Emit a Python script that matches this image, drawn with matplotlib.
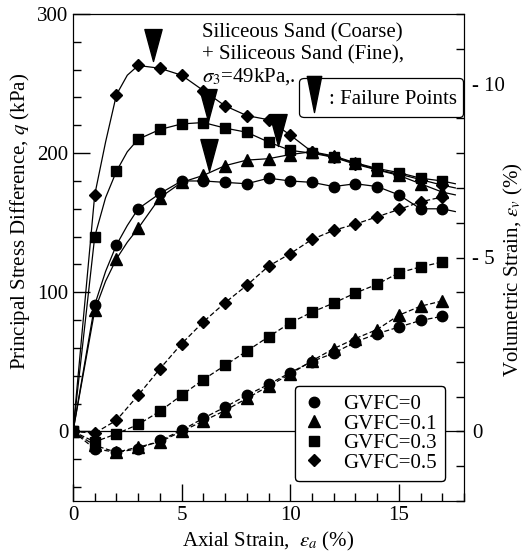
import matplotlib

matplotlib.use("Agg")
import matplotlib.pyplot as plt
import numpy as np
from matplotlib.lines import Line2D
from matplotlib.path import Path
from matplotlib.ticker import MultipleLocator

plt.rcParams.update(
    {
        "font.family": ["Liberation Serif", "DejaVu Serif"],
        "mathtext.fontset": "stix",
        "font.size": 15,
        "xtick.direction": "in",
        "ytick.direction": "in",
    }
)

# axial strain (%) along the deviator-stress curves
strain_line = [0, 1, 1.5, 2, 2.5, 3, 4, 5, 6, 7, 8, 9, 10, 11, 12, 13, 14, 15, 16, 17, 17.6]
# principal stress difference q (kPa)
q_gvfc0 = [0, 91, 115, 134, 148, 160, 171, 180, 180, 179, 178, 182, 180, 179, 176, 178, 176, 170, 160, 160, 158]
q_gvfc01 = [0, 87, 108, 124, 136, 146, 168, 179, 184, 191, 195, 196, 199, 201, 198, 193, 188, 184, 178, 172, 170]
q_gvfc03 = [0, 140, 168, 187, 201, 210, 217, 221, 222, 218, 215, 208, 202, 200, 197, 193, 189, 186, 182, 180, 178]
q_gvfc05 = [0, 170, 208, 242, 256, 263, 261, 256, 245, 234, 227, 224, 213, 201, 197, 192, 188, 185, 181, 177, 175]

# volumetric strain (%) at the marker strains 0..17
strain_pts = list(range(18))
ev_gvfc0 = [0, 0.5, 0.6, 0.5, 0.26, -0.03, -0.38, -0.7, -1.04, -1.35, -1.69, -2.01, -2.25, -2.57, -2.81, -3.0, -3.19, -3.31]
ev_gvfc01 = [0, 0.4, 0.6, 0.45, 0.3, 0.0, -0.3, -0.6, -0.95, -1.3, -1.65, -2.03, -2.38, -2.67, -2.93, -3.34, -3.6, -3.75]
ev_gvfc03 = [0, 0.3, 0.07, -0.2, -0.58, -1.04, -1.49, -1.9, -2.31, -2.72, -3.12, -3.43, -3.69, -3.98, -4.23, -4.56, -4.73, -4.87]
ev_gvfc05 = [0, 0.05, -0.32, -1.04, -1.8, -2.52, -3.15, -3.7, -4.2, -4.75, -5.11, -5.52, -5.78, -5.96, -6.17, -6.38, -6.6, -6.74]

# failure points (axial strain, q)
fail_strain = [3.7, 6.2, 6.25, 9.45]
fail_q = [266, 223, 187, 205]

labels = ["GVFC=0", "GVFC=0.1", "GVFC=0.3", "GVFC=0.5"]
markers = [("o", 7.5), ("^", 8), ("s", 7), ("D", 6.5)]

fig = plt.figure(figsize=(5.26, 5.58), dpi=100)
ax = fig.add_axes([73 / 526, 1 - 501 / 558, 391 / 526, 487 / 558])
ax2 = ax.twinx()

x_line = np.array(strain_line)
is_pt = np.isin(x_line, strain_pts)
for q, (m, ms) in zip([q_gvfc0, q_gvfc01, q_gvfc03, q_gvfc05], markers):
    q = np.array(q)
    ax.plot(x_line, q, color="k", lw=0.9)
    ax.plot(x_line[is_pt], q[is_pt], ls="none", marker=m, ms=ms, color="k")

for ev, (m, ms) in zip([ev_gvfc0, ev_gvfc01, ev_gvfc03, ev_gvfc05], markers):
    ax2.plot(strain_pts, ev, color="k", lw=0.9, ls=(0, (4, 2)),
             marker=m, ms=ms, mfc="k", mec="k")

# tall narrow triangle, tip at the data point
tip_marker = Path([(-0.27, 1), (0.27, 1), (0, 0), (-0.27, 1)],
                  [Path.MOVETO, Path.LINETO, Path.LINETO, Path.CLOSEPOLY])
ax.plot(fail_strain, fail_q, ls="none", marker=tip_marker, ms=46, color="k", zorder=5)

ax.axhline(0, color="k", lw=0.9)

ax.set_xlim(0, 18)
ax.set_ylim(-50, 300)
ax.xaxis.set_major_locator(MultipleLocator(5))
ax.xaxis.set_minor_locator(MultipleLocator(1))
ax.set_yticks([0, 100, 200, 300])
ax.yaxis.set_minor_locator(MultipleLocator(20))
ax.tick_params(which="major", length=12, width=1, top=False, right=False)
ax.tick_params(which="minor", length=6, width=1, top=False, right=False)

ax2.set_ylim(2, -12)
ax2.set_yticks([0, -5, -10])
ax2.set_yticklabels(["0", "- 5", "- 10"])
ax2.yaxis.set_minor_locator(MultipleLocator(1))
ax2.tick_params(which="major", length=6, width=1, pad=6)
ax2.tick_params(which="minor", length=6, width=1)

ax.set_xlabel(r"Axial Strain,  $\varepsilon_a$ (%)", labelpad=4)
ax.set_ylabel(r"Principal Stress Difference, $q$ (kPa)")
ax.yaxis.set_label_coords(-0.105, 0.575)
ax2.set_ylabel(r"Volumetric Strain, $\varepsilon_v$ (%)")
ax2.yaxis.set_label_coords(1.097, 0.476)

ax.text(0.331, 0.962, "Siliceous Sand (Coarse)", transform=ax.transAxes, va="center")
ax.text(0.331, 0.917, "+ Siliceous Sand (Fine),", transform=ax.transAxes, va="center")
ax.text(0.331, 0.871, r"$\sigma_3$=49kPa,.", transform=ax.transAxes, va="center")

handles = [Line2D([], [], ls="none", marker=m, ms=ms, color="k") for m, ms in markers]
leg = ax.legend(handles, labels, loc="lower right", bbox_to_anchor=(0.951, 0.041),
                borderaxespad=0, fancybox=True, edgecolor="k", framealpha=1,
                handlelength=1.0, handletextpad=0.9, labelspacing=0.0,
                borderpad=0.4)
leg.get_frame().set_linewidth(0.9)
ax.add_artist(leg)

fail_handle = Line2D([], [], ls="none", color="k", ms=26,
                     marker=Path([(-0.2, 0.5), (0.2, 0.5), (0, -0.5), (-0.2, 0.5)],
                                 [Path.MOVETO, Path.LINETO, Path.LINETO, Path.CLOSEPOLY]))
leg2 = ax2.legend([fail_handle], [": Failure Points"], loc="upper right",
                  bbox_to_anchor=(0.997, 0.869), borderaxespad=0, fancybox=True,
                  edgecolor="k", framealpha=1, handlelength=0.8, handletextpad=0.3,
                  handleheight=1.6, borderpad=0.3)
leg2.get_frame().set_linewidth(0.9)

fig.savefig("out.png", dpi=100)
